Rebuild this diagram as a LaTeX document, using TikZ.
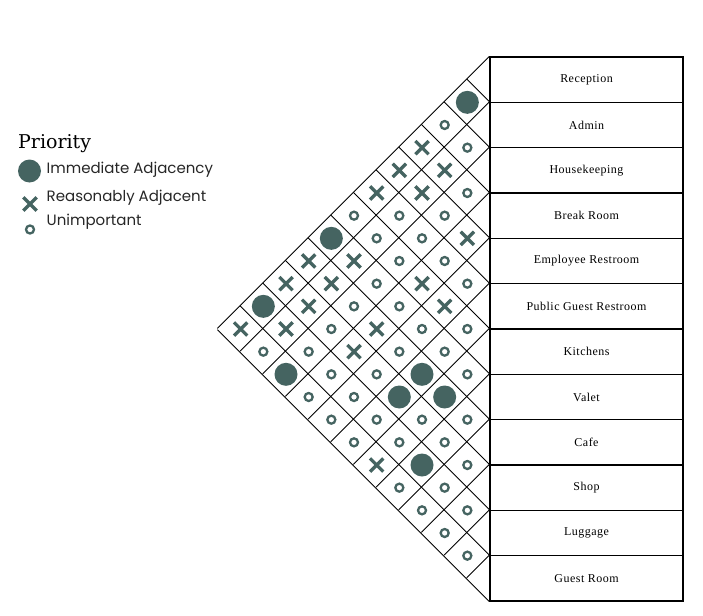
\documentclass[tikz,border=0pt]{standalone}
\usepackage{fontspec}
\setmainfont{Liberation Serif}
\newfontfamily\roomfont[LetterSpace=4]{Liberation Serif}
\newfontfamily\legfont{Poppins}
\newfontfamily\titfont{DejaVu Serif}
\usetikzlibrary{shapes.misc}
\definecolor{symcol}{HTML}{456461}
\tikzset{
  roombox/.style={draw=black, line width=1.2pt, rectangle, inner sep=0pt,
    minimum width=193pt, minimum height=45.333pt, font=\roomfont\fontsize{12}{14}\selectfont},
  gridline/.style={draw=black, line width=0.9pt},
  symB/.style={circle, fill=symcol, inner sep=0pt, minimum size=23pt},
  symO/.style={circle, draw=symcol, line width=2.3pt, inner sep=0pt, minimum size=8pt},
  symX/.style={cross out, draw=symcol, line width=3.3pt, inner sep=0pt, minimum size=10pt},
  legtext/.style={anchor=base west, inner sep=0pt, font=\legfont\fontsize{15}{18}\selectfont, text=black!85},
}
\begin{document}
\begin{tikzpicture}[x=1pt,y=-1pt]
\useasboundingbox (0,0) rectangle (703,615);
\def\a{22.6667}
% room table
\foreach \k/\name in {0/Reception,1/Admin,2/Housekeeping,3/Break Room,4/Employee Restroom,
  5/Public Guest Restroom,6/Kitchens,7/Valet,8/Cafe,9/Shop,10/Luggage,11/Guest Room}{
  \node[roombox] (r\k) at (586.5,{57+(\k+0.5)*2*\a}) {\name};
}
\coordinate (b12) at (r11.south west);
% grid lines
\foreach \k in {0,...,11}{
  \draw[gridline] (r\k.north west) -- ++({-(12-\k)*\a},{(12-\k)*\a});
  \draw[gridline] (r\k.north west) -- ++({-\k*\a},{-\k*\a});
}
\draw[gridline] (b12) -- ++({-12*\a},{-12*\a});
% symbols
\foreach \i/\j/\t in {
  0/1/B,1/2/O,2/3/O,3/4/X,4/5/O,5/6/O,6/7/O,7/8/O,8/9/O,9/10/O,10/11/O,
  0/2/O,1/3/X,2/4/O,3/5/O,4/6/X,5/7/O,6/8/B,7/9/O,8/10/O,9/11/O,
  0/3/X,1/4/X,2/5/O,3/6/X,4/7/O,5/8/B,6/9/O,7/10/B,8/11/O,
  0/4/X,1/5/O,2/6/O,3/7/O,4/8/O,5/9/B,6/10/O,7/11/O,
  0/5/X,1/6/O,2/7/O,3/8/X,4/9/O,5/10/O,6/11/X,
  0/6/O,1/7/X,2/8/O,3/9/X,4/10/O,5/11/O,
  0/7/B,1/8/X,2/9/O,3/10/O,4/11/O,
  0/8/X,1/9/X,2/10/O,3/11/O,
  0/9/X,1/10/X,2/11/B,
  0/10/B,1/11/O,
  0/11/X}{
  \node[sym\t] (p\i-\j) at ({490-(\j-\i)*\a},{57+(\i+\j+1)*\a}) {};
}
% legend
\node[anchor=base west, inner sep=0pt, font=\titfont\fontsize{19}{22}\selectfont] (title) at (18,148) {Priority};
\node[symB] (lgB) at (29.5,171) {};
\node[symX] (lgX) at (30,204) {};
\node[symO] (lgO) at (30,229.5) {};
\node[legtext] (tB) at (46.5,173.3) {Immediate Adjacency};
\node[legtext] (tX) at (46.5,201) {Reasonably Adjacent};
\node[legtext] (tO) at (46.5,225) {Unimportant};
\end{tikzpicture}
\end{document}
